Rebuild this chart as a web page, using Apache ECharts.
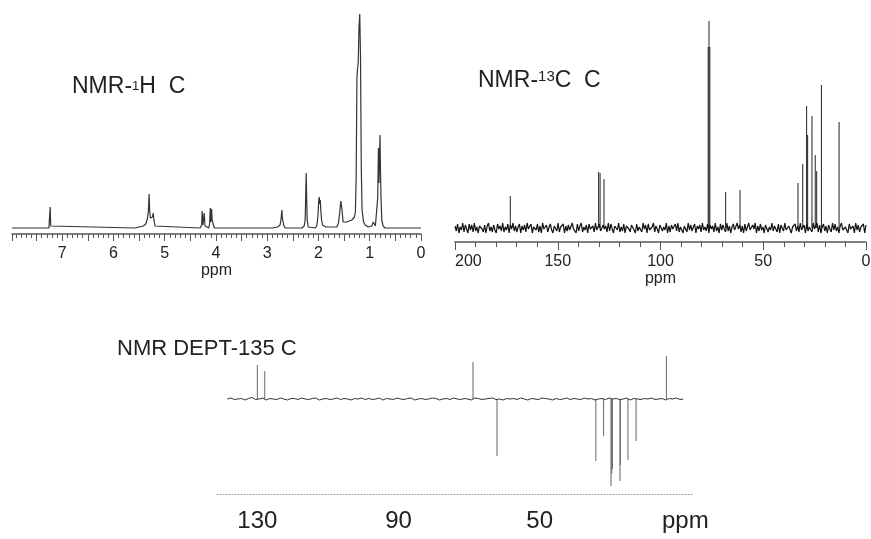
<!DOCTYPE html>
<html><head><meta charset="utf-8">
<script src="https://cdn.jsdelivr.net/npm/echarts@6/dist/echarts.min.js"></script>
<style>html,body{margin:0;padding:0;background:#fff}#c{width:871px;height:539px}</style>
</head><body><div id="c"></div>
<script>
// ---------- 1H spectrum trace: [ppm, intensity] ----------
const h1Trace = [
 [7.98,0],[7.26,0],[7.245,2],[7.235,21],[7.225,2],[7.21,0],
 [5.58,0],[5.50,1],[5.42,2],[5.37,4],[5.34,9],[5.32,16],[5.305,34],[5.295,18],[5.28,10],[5.26,9],[5.24,11],[5.225,15],[5.21,8],[5.19,2],[5.16,0],
 [4.31,0],[4.28,3],[4.27,17],[4.255,3],[4.24,4],[4.23,15],[4.215,2],[4.19,0],
 [4.14,0],[4.125,4],[4.11,20],[4.10,6],[4.085,19],[4.075,8],[4.06,10],[4.05,3],[4.03,0],
 [2.90,0],[2.87,1],[2.80,1],[2.75,3],[2.73,9],[2.715,18],[2.705,10],[2.695,12],[2.68,3],[2.65,0],
 [2.32,0],[2.28,2],[2.26,8],[2.25,30],[2.24,55],[2.23,28],[2.22,8],[2.20,1],[2.17,0],
 [2.06,0],[2.03,3],[2.01,12],[1.995,28],[1.985,31],[1.975,24],[1.965,28],[1.955,18],[1.94,8],[1.92,3],[1.89,1],[1.86,1],
 [1.64,1],[1.61,5],[1.585,16],[1.565,27],[1.545,20],[1.52,6],[1.49,4],[1.45,6],[1.40,7],[1.35,8],[1.30,11],
 [1.28,16],[1.265,50],[1.25,150],[1.24,158],[1.225,165],[1.21,200],[1.195,214],[1.18,170],[1.165,60],[1.15,18],[1.12,6],[1.09,3],[1.03,1],[0.96,2],[0.93,6],[0.915,4],[0.89,2],
 [0.86,4],[0.845,30],[0.83,80],[0.82,45],[0.81,70],[0.80,93],[0.79,55],[0.78,30],[0.765,8],[0.74,2],[0.70,0],[0,0]
];

// ---------- 13C spectrum ----------
const c13PeakPpm = [173.1, 130.1, 129.4, 127.5, 76.8, 76.4, 76.0, 68.3, 61.3, 33.1, 30.8, 28.9, 28.4, 26.3, 24.7, 24.0, 21.7, 13.1];
const c13PeakInt = [32, 56, 55, 49, 181, 207, 181, 36, 38, 45, 64, 122, 93, 112, 73, 57, 143, 106];
const c13NoiseFrom = 200, c13NoiseTo = 0;
const c13Noise = [
 2,-3,4,-5,1,-2,5,-4,3,-1,-5,4,-2,3,-4,5,-3,1,-5,2,
 4,-1,-4,3,-5,2,5,-3,1,-4,3,-2,-5,4,-1,2,-3,5,-4,1,
 -2,4,-5,3,-1,5,-3,2,-4,1,4,-5,2,-2,3,-4,5,-1,-3,4,
 -5,1,3,-2,4,-4,2,-5,5,-1,-3,3,-4,1,4,-2,-5,2,3,-3,
 5,-4,1,-1,4,-5,2,-3,3,-2,-4,5,-1,1,-5,4,-3,2,5,-4,
 1,-2,3,-5,4,-1,-3,2,-4,5,-2,1,4,-3,-5,3,-1,2,-4,5,
 -3,4,-1,-5,2,3,-2,5,-4,1,-3,4,-5,2,1,-1,-4,3,5,-2,
 -5,4,-3,1,2,-4,5,-1,3,-5,4,-2,-3,1,5,-4,2,-1,-5,3,
 4,-3,1,-2,5,-5,2,-4,3,-1,-2,4,-3,5,-4,1,3,-5,2,-1,
 -4,5,-2,3,-3,1,4,-5,2,-1,3,-4,5,-2,1,-3,4,-5,3,-1,
 2,-4,5,-3,1,-5,4,-2,3,-1,-4,5,-3,2,-5,1,4,-2,-3,5,
 -1,3,-4,2,-5,4,-3,1,5,-2,-4,3,-1,5,-5,2,-3,4,-2,1,
 -5,3,4,-4,1,-2,5,-3,2,-1,-4,4,-5,3,1,-3,5,-2,-4,2,
 3,-5,1,-1,4,-3,2,-4,5,-2,-1,3,-5,4,-3,1,2,-4,5,-1,
 -2,5,-4,3,-5,1,4,-3,2,-5,3,-1,-4,5,-2,4,-3,1,-5,2,
 5,-2,-4,1,3,-5,4,-1,-3,2,-5,5,-2,3,-4,1,-1,4,-5,3
];

// ---------- DEPT-135 spectrum ----------
const deptPeakPpm = [130.0, 127.9, 68.9, 62.1, 34.1, 31.9, 29.8, 29.6, 29.4, 27.25, 27.15, 25.0, 22.7, 14.1];
const deptPeakInt = [34, 28, 37, -57, -62, -37, -87, -75, -70, -82, -66, -61, -42, 43];
const deptNoiseFrom = 138.5, deptNoiseTo = 9.3;
const deptNoise = [
 0,1,-0.5,0,0.5,-1,0.5,1.5,-0.5,0,1,-1,0.5,0,-0.5,1,0,-1,0.5,0.5,
 -0.5,1,0,-0.5,0.5,1,-1,0,0.5,-0.5,0,1,-0.5,0.5,0,-1,0.5,0,1,-0.5,
 0.5,-0.5,0,1,-1,0.5,0,-0.5,1,0,-0.5,0.5,1,-1,0,0.5,-0.5,0,1,0.5,
 -1,0,0.5,-0.5,1,0,-0.5,0.5,0,-1,1,0.5,-0.5,0,0.5,1,-0.5,0,-1,0.5,
 0,0.5,-0.5,1,0,-1,0.5,0,-0.5,1,0.5,0,-1,0.5,-0.5,0,1,-0.5,0.5,0,
 -0.5,1,0,0.5,-1,0,0.5,-0.5,1,0,0.5,-0.5,0,1,-1,0.5,0,-0.5,0.5,0,
 1,-0.5,0,0.5,-1,0.5,0,1,-0.5,0
];
const deptTickLabels = [130, 90, 50];

const FONT = 'Liberation Sans, Arial, Helvetica, sans-serif';

function trace(values, from, to) {
  const n = values.length;
  return values.map((v, i) => [from + (to - from) * i / (n - 1), v]);
}

const chart = echarts.init(document.getElementById('c'), null, {renderer: 'canvas'});
const axisCol = '#555';
chart.setOption({
  animation: false,
  backgroundColor: '#fff',
  grid: [
    {left: 12, top: 14, width: 409, height: 220, outerBoundsMode: 'none'},
    {left: 455, top: 21, width: 411, height: 221, outerBoundsMode: 'none'},
    {left: 215, top: 355, width: 477, height: 139, outerBoundsMode: 'none'}
  ],
  xAxis: [
    {gridIndex: 0, type: 'value', inverse: true, min: 0, max: 7.98, interval: 0.5,
     axisLine: {onZero: false, lineStyle: {color: axisCol, width: 1.5}},
     axisTick: {length: 7, lineStyle: {color: axisCol}},
     minorTick: {show: true, splitNumber: 5, length: 4, lineStyle: {color: axisCol}},
     splitLine: {show: false},
     axisLabel: {fontSize: 16, color: '#222', fontFamily: FONT, margin: 12,
       formatter: v => (Math.abs(v - Math.round(v)) < 1e-6 ? String(Math.round(v)) : '')},
     name: 'ppm', nameLocation: 'middle', nameGap: 28,
     nameTextStyle: {fontSize: 16, color: '#222', fontFamily: FONT}},
    {gridIndex: 1, type: 'value', inverse: true, min: 0, max: 200, interval: 50,
     axisLine: {onZero: false, lineStyle: {color: axisCol, width: 1.5}},
     axisTick: {length: 8, lineStyle: {color: axisCol}},
     minorTick: {show: true, splitNumber: 5, length: 5, lineStyle: {color: axisCol}},
     splitLine: {show: false},
     axisLabel: {fontSize: 16, color: '#222', fontFamily: FONT, margin: 12, alignMaxLabel: 'left'},
     name: 'ppm', nameLocation: 'middle', nameGap: 27,
     nameTextStyle: {fontSize: 16, color: '#222', fontFamily: FONT}},
    {gridIndex: 2, type: 'value', inverse: true, min: 6.85, max: 142,
     axisLine: {onZero: false, lineStyle: {color: '#999', width: 1, type: [1, 2]}},
     axisTick: {show: false},
     splitLine: {show: false},
     axisLabel: {fontSize: 24, color: '#222', fontFamily: FONT, margin: 15, customValues: deptTickLabels}}
  ],
  yAxis: [
    {gridIndex: 0, type: 'value', min: -6, max: 214, show: false},
    {gridIndex: 1, type: 'value', min: -14, max: 207, show: false},
    {gridIndex: 2, type: 'value', min: -95, max: 44, show: false}
  ],
  graphic: [
    {type: 'text', x: 72, y: 75, style: {text: '{a|NMR-}{s|1}{a|H  C}', rich: {
      a: {fontSize: 23, fontFamily: FONT, fill: '#222'},
      s: {fontSize: 13, fontFamily: FONT, fill: '#222', verticalAlign: 'middle'}}}},
    {type: 'text', x: 478, y: 69, style: {text: '{a|NMR-}{s|13}{a|C  C}', rich: {
      a: {fontSize: 23, fontFamily: FONT, fill: '#222'},
      s: {fontSize: 15, fontFamily: FONT, fill: '#222', verticalAlign: 'top'}}}},
    {type: 'text', x: 117, y: 338, style: {text: 'NMR DEPT-135 C', fontSize: 22, fontFamily: FONT, fill: '#222'}},
    {type: 'text', x: 662, y: 509, style: {text: 'ppm', fontSize: 24, fontFamily: FONT, fill: '#222'}}
  ],
  series: [
    {type: 'line', xAxisIndex: 0, yAxisIndex: 0, data: h1Trace, showSymbol: false,
     lineStyle: {color: '#333', width: 1.2}, silent: true},
    {type: 'line', xAxisIndex: 1, yAxisIndex: 1, data: trace(c13Noise, c13NoiseFrom, c13NoiseTo), showSymbol: false,
     lineStyle: {color: '#111', width: 1.2}, silent: true},
    {type: 'bar', xAxisIndex: 1, yAxisIndex: 1, barWidth: 1,
     data: c13PeakPpm.map((p, i) => [p, c13PeakInt[i]]),
     itemStyle: {color: '#222'}, silent: true},
    {type: 'line', xAxisIndex: 2, yAxisIndex: 2, data: trace(deptNoise, deptNoiseFrom, deptNoiseTo), showSymbol: false,
     lineStyle: {color: '#333', width: 1}, silent: true},
    {type: 'bar', xAxisIndex: 2, yAxisIndex: 2, barWidth: 1,
     data: deptPeakPpm.map((p, i) => [p, deptPeakInt[i]]),
     itemStyle: {color: '#666'}, silent: true}
  ]
});
</script></body></html>
